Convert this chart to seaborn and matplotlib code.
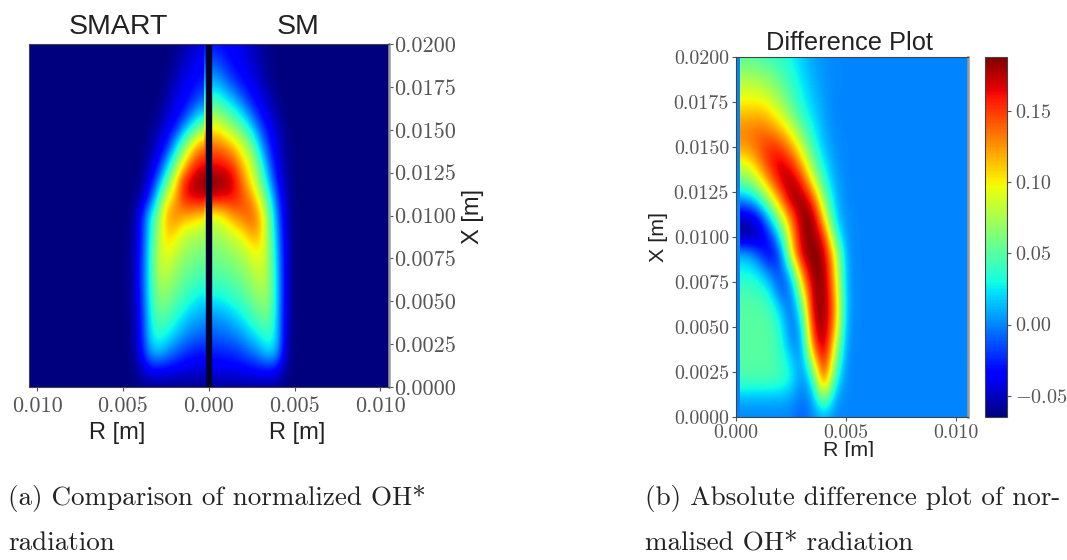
# OH* radiation comparison, two panels plus captions
import numpy as np
import matplotlib
matplotlib.use("Agg")
import matplotlib.pyplot as plt
from matplotlib.patches import Rectangle
import seaborn as sn

# values, rows go from X=0.020 down to X=0.000 in 0.001 steps
# columns go from R=0 in 0.0005 steps, anything further out is zero
smart_rows = [
    [.09, .09, .06, .03, .01, 0, 0, 0, 0, 0, 0],
    [.11, .11, .09, .06, .02, 0, 0, 0, 0, 0, 0],
    [.14, .14, .11, .09, .05, .01, 0, 0, 0, 0, 0],
    [.20, .20, .14, .11, .08, .03, 0, 0, 0, 0, 0],
    [.32, .32, .24, .14, .10, .06, .01, 0, 0, 0, 0],
    [.54, .54, .42, .30, .15, .10, .04, .01, 0, 0, 0],
    [.78, .78, .66, .50, .33, .14, .08, .02, 0, 0, 0],
    [.90, .90, .83, .66, .48, .30, .12, .05, 0, 0, 0],
    [1.0, 1.0, .95, .88, .64, .45, .24, .09, .01, 0, 0],
    [.93, .93, .92, .88, .72, .62, .38, .16, .04, 0, 0],
    [.68, .68, .72, .74, .78, .72, .50, .33, .12, .01, 0],
    [.56, .56, .58, .60, .68, .70, .54, .34, .13, .01, 0],
    [.50, .50, .52, .55, .60, .65, .57, .36, .14, .02, 0],
    [.46, .46, .48, .50, .54, .60, .57, .37, .15, .02, 0],
    [.40, .40, .43, .46, .50, .55, .54, .37, .15, .02, 0],
    [.34, .34, .37, .41, .45, .50, .50, .36, .14, .02, 0],
    [.28, .28, .30, .34, .39, .44, .46, .34, .13, .01, 0],
    [.22, .22, .24, .27, .32, .37, .40, .33, .12, .01, 0],
    [.14, .14, .15, .18, .22, .27, .32, .27, .10, .01, 0],
    [.08, .08, .08, .09, .10, .11, .12, .11, .05, 0, 0],
    [.01, .01, .01, .01, .01, .01, .01, .01, 0, 0, 0],
]
sm_rows = [
    [.13, .13, .12, .11, .09, .06, .03, .01, 0, 0, 0],
    [.20, .20, .15, .12, .10, .07, .04, .01, 0, 0, 0],
    [.28, .28, .22, .16, .125, .10, .06, .02, 0, 0, 0],
    [.38, .38, .33, .27, .19, .125, .09, .05, .01, 0, 0],
    [.52, .52, .46, .40, .33, .22, .13, .08, .03, 0, 0],
    [.66, .66, .60, .54, .46, .36, .22, .12, .07, .01, 0],
    [.80, .80, .76, .70, .60, .50, .33, .17, .08, .02, 0],
    [.90, .90, .88, .83, .70, .60, .43, .24, .10, .03, 0],
    [1.0, 1.0, .98, .92, .78, .65, .50, .32, .13, .04, 0],
    [.92, .92, .90, .89, .83, .76, .60, .42, .20, .05, 0],
    [.62, .62, .68, .76, .80, .82, .72, .50, .25, .06, 0],
    [.55, .55, .58, .62, .66, .75, .72, .52, .28, .07, 0],
    [.50, .50, .52, .55, .58, .63, .66, .54, .30, .08, 0],
    [.47, .47, .48, .50, .53, .57, .62, .54, .32, .08, 0],
    [.42, .42, .43, .45, .48, .52, .57, .54, .33, .08, 0],
    [.35, .35, .37, .40, .43, .47, .52, .52, .33, .08, 0],
    [.27, .27, .29, .32, .36, .41, .46, .48, .33, .07, 0],
    [.22, .22, .23, .25, .28, .33, .37, .42, .33, .06, 0],
    [.15, .15, .16, .17, .20, .23, .28, .34, .30, .05, 0],
    [.10, .10, .10, .10, .11, .12, .13, .14, .11, .02, 0],
    [.02, .02, .02, .02, .02, .02, .02, .02, .01, 0, 0],
]
diff_rows = [
    [.050, .050, .045, .040, .036, .028, .018, .008, .003, 0, 0, 0],
    [.072, .072, .070, .062, .050, .035, .022, .010, .004, .001, 0, 0],
    [.090, .090, .088, .080, .065, .045, .028, .015, .005, 0, 0, 0],
    [.110, .110, .112, .105, .085, .060, .035, .020, .007, 0, 0, 0],
    [.130, .130, .135, .130, .115, .090, .055, .028, .010, 0, 0, 0],
    [.125, .125, .140, .155, .150, .125, .085, .040, .015, .003, 0, 0],
    [.090, .090, .120, .155, .175, .160, .120, .065, .025, .005, 0, 0],
    [.055, .055, .080, .120, .165, .185, .160, .100, .040, .010, 0, 0],
    [0, 0, .025, .070, .120, .178, .187, .155, .070, .015, 0, 0],
    [-.055, -.055, -.040, .010, .070, .130, .187, .187, .110, .020, .003, 0],
    [-.060, -.060, -.055, -.030, .020, .110, .180, .187, .160, .050, .003, 0],
    [.015, .015, -.010, -.040, -.020, .090, .175, .190, .180, .100, .005, 0],
    [.030, .030, .025, 0, -.020, .020, .130, .187, .187, .110, .007, 0],
    [.045, .045, .040, .030, -.012, -.008, .085, .180, .187, .125, .008, 0],
    [.050, .050, .050, .045, .020, -.012, .040, .180, .187, .135, .008, 0],
    [.050, .050, .050, .050, .035, -.008, .012, .165, .187, .125, .005, 0],
    [.050, .050, .050, .050, .040, .004, -.002, .140, .187, .095, .002, 0],
    [.050, .050, .050, .050, .042, .025, -.003, .080, .175, .065, 0, 0],
    [.045, .045, .045, .045, .042, .030, -.002, .025, .155, .030, 0, 0],
    [.010, .010, .010, .010, .010, .006, -.005, .006, .070, .006, 0, 0],
    [0, 0, 0, 0, 0, 0, -.012, 0, .010, 0, 0, 0],
]
x_ticks = [0.0, 0.0025, 0.005, 0.0075, 0.01, 0.0125, 0.015, 0.0175, 0.02]
x_labels = ['0.0000', '0.0025', '0.0050', '0.0075', '0.0100', '0.0125', '0.0150', '0.0175', '0.0200']
r_ticks_a = [-0.01, -0.005, 0.0, 0.005, 0.01]
r_labels_a = ['0.010', '0.005', '0.000', '0.005', '0.010']
r_ticks_b = [0.0, 0.005, 0.01]
r_labels_b = ['0.000', '0.005', '0.010']
cbar_ticks = [-0.05, 0.0, 0.05, 0.10, 0.15]
cbar_labels = ['$-$0.05', '0.00', '0.05', '0.10', '0.15']
captions = [
    (8, 498, '(a) Comparison of normalized OH*'),
    (8, 543, 'radiation'),
    (645, 498, '(b) Absolute difference plot of nor-'),
    (645, 543, 'malised OH* radiation'),
]

sn.set_style('white')
plt.rcParams['font.family'] = ['Liberation Sans', 'DejaVu Sans']
plt.rcParams['mathtext.fontset'] = 'cm'
plt.rcParams['axes.unicode_minus'] = False

W, H = 1067, 560
SERIF = ['cmr10', 'DejaVu Serif']
GREY = '#555555'
TEXT = '#222222'
dR = 0.0005
dX = 0.001


def box(x0, y0, x1, y1):
    return [x0 / W, 1 - y1 / H, (x1 - x0) / W, (y1 - y0) / H]


def full(rows):
    # pad with zeros out to R=0.0105
    a = np.array(rows, dtype=float)
    return np.pad(a, ((0, 0), (0, 22 - a.shape[1])))


def smooth(ax, data, mesh, left=False):
    x0, x1 = -dR / 2, (data.shape[1] - 0.5) * dR
    ext = (x0, x1, -dX / 2, 0.02 + dX / 2)
    if left:
        data = np.fliplr(data)
        ext = (-x1, -x0, -dX / 2, 0.02 + dX / 2)
    ax.imshow(data, cmap=mesh.cmap, norm=mesh.norm, extent=ext, origin='upper',
              aspect='auto', interpolation='bicubic', zorder=1)


def style_ticks(ax, size):
    ax.tick_params(axis='both', length=3, width=0.8, color=GREY, pad=2,
                   bottom=True, labelcolor=GREY)
    for t in ax.get_xticklabels() + ax.get_yticklabels():
        t.set_family(SERIF)
        t.set_fontsize(size)
    for s in ax.spines.values():
        s.set_visible(True)
        s.set_color('#444444')
        s.set_linewidth(0.8)
    ax.spines['right'].set_color('#999999')
    ax.spines['right'].set_linewidth(1.8)


fig = plt.figure(figsize=(W / 100, H / 100), dpi=100)

# panel a
smart = full(smart_rows)
sm = full(sm_rows)
ax1 = fig.add_axes(box(29, 44, 388.5, 387))
sn.heatmap(sm, ax=ax1, cmap='jet', vmin=0, vmax=1, cbar=False, xticklabels=False, yticklabels=False)
mesh1 = ax1.collections[0]
smooth(ax1, smart, mesh1, left=True)
smooth(ax1, sm, mesh1)
mesh1.set_visible(False)
ax1.axvline(0, color='#00003c', lw=4.6, zorder=2)
ax1.axvline(0, color='#000000', lw=1.0, zorder=2)
ax1.set_xlim(-0.01047, 0.01047)
ax1.set_ylim(0, 0.02)
ax1.set_xticks(r_ticks_a, r_labels_a, rotation=0)
ax1.yaxis.tick_right()
ax1.set_yticks(x_ticks, x_labels, rotation=0)
style_ticks(ax1, 16)
ax1.tick_params(axis='y', right=True, left=False, pad=1)
ax1.tick_params(axis='x', pad=4)

# panel b
diff = full(diff_rows)
ax2 = fig.add_axes(box(736, 57, 968, 417))
cax = fig.add_axes(box(985, 57, 1007, 417))
sn.heatmap(diff, ax=ax2, cmap='jet', vmin=-0.065, vmax=0.188, cbar_ax=cax,
           xticklabels=False, yticklabels=False)
mesh2 = ax2.collections[0]
smooth(ax2, diff, mesh2)
mesh2.set_visible(False)
ax2.axvspan(0, 0.0002, color=mesh2.cmap(mesh2.norm(0.0)), lw=0, zorder=2)
ax2.set_xlim(0, 0.01055)
ax2.set_ylim(0, 0.02)
ax2.set_xticks(r_ticks_b, r_labels_b, rotation=0)
ax2.set_yticks(x_ticks, x_labels, rotation=0)
style_ticks(ax2, 14.4)
ax2.tick_params(axis='y', left=True, right=False)

cbar = mesh2.colorbar
cbar.set_ticks(cbar_ticks, labels=cbar_labels)
cbar.outline.set_visible(True)
cbar.outline.set_linewidth(0.8)
cbar.outline.set_edgecolor('#444444')
cax.tick_params(axis='y', right=True, length=3, width=0.8, color=GREY, pad=3, labelcolor=GREY)
for t in cax.get_yticklabels():
    t.set_family(SERIF)
    t.set_fontsize(14.6)


def label(x, y, s, size, rot=0):
    fig.text(x / W, 1 - y / H, s, fontsize=size, color=TEXT, rotation=rot, ha='center', va='center')


label(118, 27, 'SMART', 20.5)
label(298, 27, 'SM', 20.5)
label(117, 433, 'R [m]', 17)
label(297, 433, 'R [m]', 17)
label(473, 216, 'X [m]', 17, rot=90)
label(849, 43, 'Difference Plot', 18.3)
label(849, 451, 'R [m]', 15.4)
label(659, 237, 'X [m]', 15.4, rot=90)

# the R [m] label of panel b is cut off at the bottom in the original
fig.add_artist(Rectangle((700 / W, 0), 300 / W, 1 - 457 / H, transform=fig.transFigure,
                         facecolor='white', edgecolor='none', zorder=5))

for cx, cy, s in captions:
    fig.text(cx / W, 1 - cy / H, s, family=SERIF, fontsize=19.5, color='#222222',
             ha='left', va='center', zorder=6)

fig.savefig('out.png', dpi=100)
